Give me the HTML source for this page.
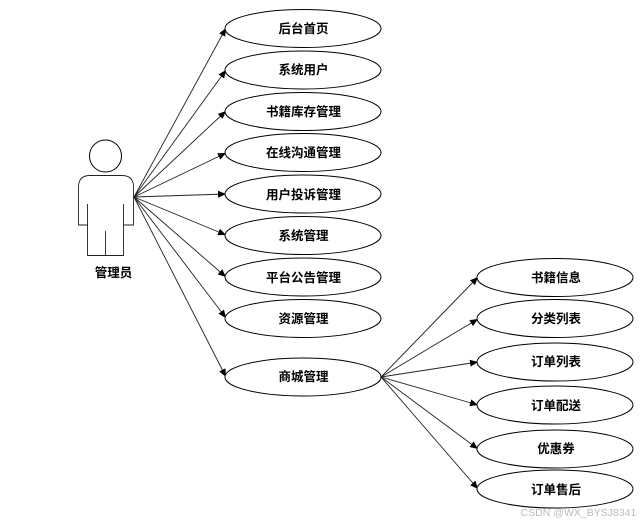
<!DOCTYPE html>
<html>
<head>
<meta charset="utf-8">
<style>
html,body{margin:0;padding:0;background:#fff;width:644px;height:523px;overflow:hidden}
svg{display:block}
text{font-family:"Liberation Sans","Noto Sans CJK SC",sans-serif;font-size:12.5px;font-weight:bold;text-anchor:middle;fill:#000}
.e{fill:#fff;stroke:#000;stroke-width:1}
.l{stroke:#222;stroke-width:.9;fill:none}
.a{stroke:#222;stroke-width:.9;fill:none}
</style>
</head>
<body>
<svg width="644" height="523" viewBox="0 0 644 523" xmlns="http://www.w3.org/2000/svg">
<defs>
<marker id="a" markerUnits="userSpaceOnUse" markerWidth="10" markerHeight="10" refX="8" refY="3.500" orient="auto">
<path d="M0,0 L8,3.500 L0,7 Z" fill="#000" stroke="none"/>
</marker>
</defs>

<line class="a" x1="134" y1="197" x2="226" y2="28" marker-end="url(#a)"/>
<line class="a" x1="134" y1="197" x2="226" y2="70" marker-end="url(#a)"/>
<line class="a" x1="134" y1="197" x2="226" y2="111" marker-end="url(#a)"/>
<line class="a" x1="134" y1="197" x2="226" y2="153" marker-end="url(#a)"/>
<line class="a" x1="134" y1="197" x2="226" y2="194" marker-end="url(#a)"/>
<line class="a" x1="134" y1="197" x2="226" y2="235" marker-end="url(#a)"/>
<line class="a" x1="134" y1="197" x2="226" y2="277" marker-end="url(#a)"/>
<line class="a" x1="134" y1="197" x2="226" y2="318" marker-end="url(#a)"/>
<line class="a" x1="134" y1="197" x2="226" y2="377" marker-end="url(#a)"/>
<line class="a" x1="381" y1="377" x2="478" y2="277" marker-end="url(#a)"/>
<line class="a" x1="381" y1="377" x2="478" y2="319" marker-end="url(#a)"/>
<line class="a" x1="381" y1="377" x2="478" y2="362" marker-end="url(#a)"/>
<line class="a" x1="381" y1="377" x2="478" y2="405" marker-end="url(#a)"/>
<line class="a" x1="381" y1="377" x2="478" y2="449" marker-end="url(#a)"/>
<line class="a" x1="381" y1="377" x2="478" y2="489" marker-end="url(#a)"/>

<circle class="e" cx="105.5" cy="156" r="16"/>
<path class="l" d="M78.500,225 V187 Q78.500,175.500 90,175.500 H122 Q133.500,175.500 133.500,187 V225 H123.500 V255.500 H87.500 V225 Z"/>
<path class="l" d="M87.500,204 V225 M123.500,204 V225 M105.500,231 V255.500"/>
<text x="113.500" y="277">管理员</text>

<ellipse class="e" cx="303" cy="28.500" rx="78" ry="19"/>
<ellipse class="e" cx="303" cy="70" rx="78" ry="19"/>
<ellipse class="e" cx="303" cy="111.500" rx="78" ry="19"/>
<ellipse class="e" cx="303" cy="152.500" rx="78" ry="19"/>
<ellipse class="e" cx="303" cy="194" rx="78" ry="19"/>
<ellipse class="e" cx="303" cy="235.500" rx="78" ry="19"/>
<ellipse class="e" cx="303" cy="277" rx="78" ry="19"/>
<ellipse class="e" cx="303" cy="318.500" rx="78" ry="19"/>
<ellipse class="e" cx="303" cy="377" rx="78" ry="19"/>

<ellipse class="e" cx="555" cy="277.500" rx="78" ry="19"/>
<ellipse class="e" cx="555" cy="318.500" rx="78" ry="19"/>
<ellipse class="e" cx="555" cy="362" rx="78" ry="19"/>
<ellipse class="e" cx="555" cy="405" rx="78" ry="19"/>
<ellipse class="e" cx="555" cy="449" rx="78" ry="19"/>
<ellipse class="e" cx="555" cy="489" rx="78" ry="19"/>

<text x="303.500" y="33">后台首页</text>
<text x="303.500" y="74">系统用户</text>
<text x="303.500" y="116">书籍库存管理</text>
<text x="303.500" y="157">在线沟通管理</text>
<text x="303.500" y="199">用户投诉管理</text>
<text x="303.500" y="240">系统管理</text>
<text x="303.500" y="282">平台公告管理</text>
<text x="303.500" y="323">资源管理</text>
<text x="303.500" y="381">商城管理</text>

<text x="556" y="282">书籍信息</text>
<text x="556" y="323">分类列表</text>
<text x="556" y="366">订单列表</text>
<text x="556" y="410">订单配送</text>
<text x="556" y="453">优惠券</text>
<text x="556" y="494">订单售后</text>

<text x="578.500" y="516" style="font-size:10.5px;font-weight:normal;fill:#bbb">CSDN @WX_BYSJ8341</text>
</svg>
</body>
</html>
